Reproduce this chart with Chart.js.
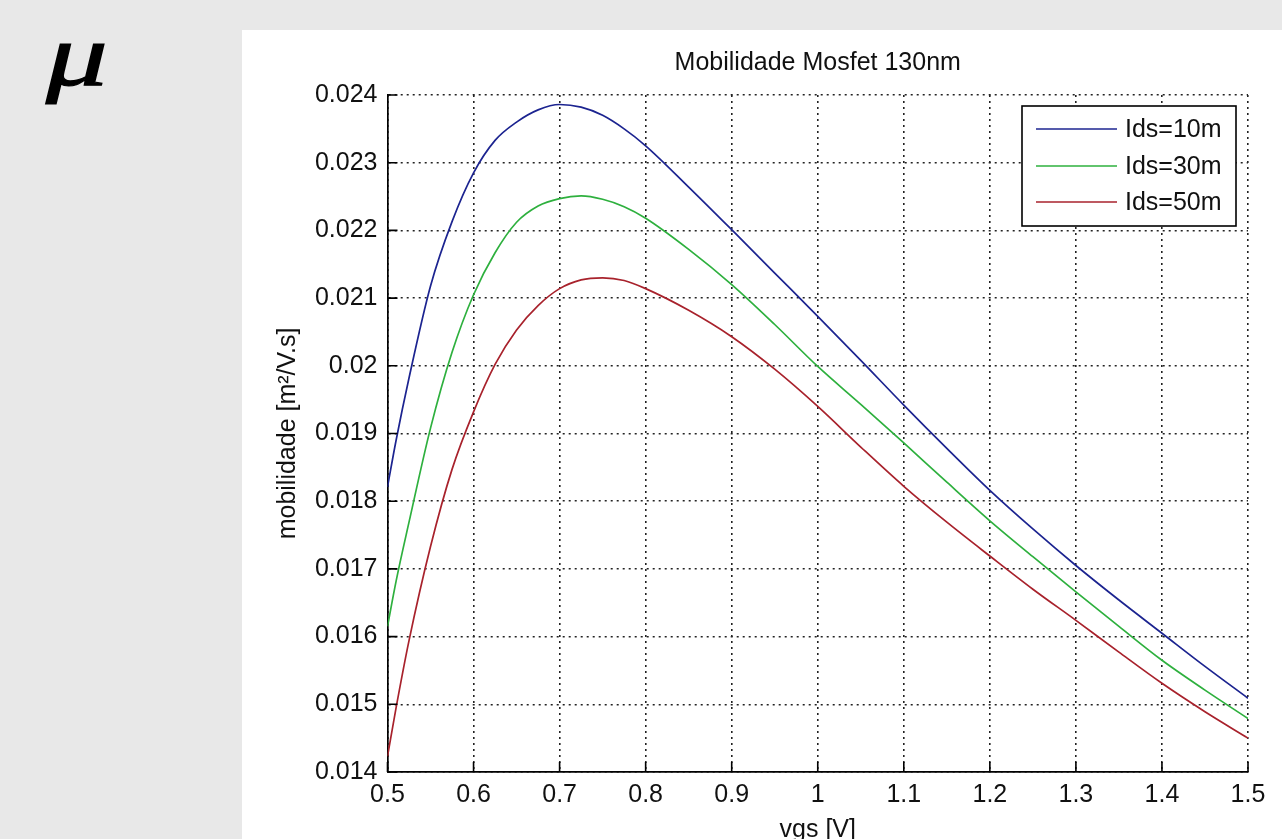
<!DOCTYPE html>
<html>
<head>
<meta charset="utf-8">
<script src="https://cdn.jsdelivr.net/npm/chart.js@4.4.0/dist/chart.umd.min.js"></script>
<style>
  html, body { margin: 0; padding: 0; background: #e8e8e8; width: 1282px; height: 839px; overflow: hidden; }
  #mu { position: absolute; left: 46px; top: 12px; font: italic 88px "Liberation Serif", "Times New Roman", serif; color: #000; line-height: 1; transform: scaleX(1.4); transform-origin: left top; -webkit-text-stroke: 1.2px #000; }
  #panel { position: absolute; left: 242px; top: 30px; width: 1040px; height: 809px; background: #fff; }
  canvas { display: block; }
</style>
</head>
<body>
<div id="mu">μ</div>
<div id="panel"><canvas id="chart" width="1040" height="809"></canvas></div>
<script>
  // values
  var vgs = [0.5, 0.51, 0.525, 0.55, 0.575, 0.6, 0.625, 0.65, 0.675, 0.7, 0.725, 0.75, 0.775, 0.8,
    0.85, 0.9, 0.95, 1.0, 1.05, 1.1, 1.15, 1.2, 1.25, 1.3, 1.35, 1.4, 1.45, 1.5];

  var mobIds10 = [0.01821, 0.01890, 0.01982, 0.02118, 0.02213, 0.02285, 0.02333, 0.02360, 0.02378, 0.02386,
    0.02382, 0.02370, 0.02350, 0.02325, 0.02264, 0.02201, 0.02137, 0.02073, 0.02008, 0.01942,
    0.01878, 0.01816, 0.01759, 0.01705, 0.01654, 0.01605, 0.01556, 0.01509];

  var mobIds30 = [0.01615, 0.01682, 0.01769, 0.01908, 0.02020, 0.02105, 0.02167, 0.02212, 0.02236, 0.02247,
    0.02251, 0.02246, 0.02235, 0.02218, 0.02172, 0.02120, 0.02061, 0.01999, 0.01943, 0.01886,
    0.01828, 0.01771, 0.01718, 0.01666, 0.01615, 0.01565, 0.01521, 0.01479];

  var mobIds50 = [0.01423, 0.01495, 0.01594, 0.01733, 0.01847, 0.01932, 0.02002, 0.02053, 0.02089, 0.02114,
    0.02127, 0.02130, 0.02126, 0.02114, 0.02082, 0.02043, 0.01995, 0.01940, 0.01880, 0.01822,
    0.01769, 0.01719, 0.01670, 0.01624, 0.01577, 0.01531, 0.01489, 0.01450];

  var seriesLabels = ['Ids=10m', 'Ids=30m', 'Ids=50m'];
  var seriesColors = ['#1c2490', '#2eb03e', '#a8222c'];
  var xTicks = [0.5, 0.6, 0.7, 0.8, 0.9, 1.0, 1.1, 1.2, 1.3, 1.4, 1.5];
  var yTicks = [0.014, 0.015, 0.016, 0.017, 0.018, 0.019, 0.02, 0.021, 0.022, 0.023, 0.024];

  var FONT = '"Liberation Sans", Arial, Helvetica, sans-serif';

  function fmt(v) {
    return String(Number(v.toFixed(4)));
  }

  function points(ys) {
    return vgs.map(function (v, i) { return { x: v, y: ys[i] }; });
  }

  // title, axis titles, inward ticks and the boxed legend
  var matlabPlugin = {
    id: 'matlab',
    afterDraw: function (chart) {
      var ctx = chart.ctx;
      var a = chart.chartArea;
      var xs = chart.scales.x;
      var ys = chart.scales.y;
      var cx = (a.left + a.right) / 2;
      ctx.save();

      ctx.strokeStyle = '#000';
      ctx.lineWidth = 1.6;
      ctx.beginPath();
      xTicks.forEach(function (v) {
        var px = xs.getPixelForValue(v);
        ctx.moveTo(px, a.bottom);
        ctx.lineTo(px, a.bottom - 10);
      });
      yTicks.forEach(function (v) {
        var py = ys.getPixelForValue(v);
        ctx.moveTo(a.left, py);
        ctx.lineTo(a.left + 10, py);
      });
      ctx.stroke();

      ctx.fillStyle = '#111';
      ctx.font = '25px ' + FONT;
      ctx.textAlign = 'center';
      ctx.textBaseline = 'alphabetic';
      ctx.fillText('Mobilidade Mosfet 130nm', cx, 40);
      ctx.fillText('vgs [V]', cx, 807);

      ctx.save();
      ctx.translate(46, (a.top + a.bottom) / 2);
      ctx.rotate(-Math.PI / 2);
      ctx.textBaseline = 'middle';
      ctx.fillText('mobilidade [m²/V.s]', 0, 0);
      ctx.restore();

      // legend
      var bw = 214, bh = 120;
      var bx = a.right - 12 - bw, by = a.top + 11;
      ctx.fillStyle = '#fff';
      ctx.fillRect(bx, by, bw, bh);
      ctx.strokeStyle = '#000';
      ctx.lineWidth = 1.6;
      ctx.strokeRect(bx, by, bw, bh);
      var rows = [23, 60, 96];
      chart.data.datasets.forEach(function (ds, i) {
        var ry = by + rows[i];
        ctx.strokeStyle = ds.borderColor;
        ctx.lineWidth = 1.6;
        ctx.beginPath();
        ctx.moveTo(bx + 14, ry);
        ctx.lineTo(bx + 95, ry);
        ctx.stroke();
        ctx.fillStyle = '#111';
        ctx.textAlign = 'left';
        ctx.textBaseline = 'middle';
        ctx.font = '25px ' + FONT;
        ctx.fillText(ds.label, bx + 103, ry + 1);
      });
      ctx.restore();
    }
  };

  new Chart(document.getElementById('chart').getContext('2d'), {
    type: 'line',
    data: {
      datasets: [
        { label: seriesLabels[0], data: points(mobIds10), borderColor: seriesColors[0] },
        { label: seriesLabels[1], data: points(mobIds30), borderColor: seriesColors[1] },
        { label: seriesLabels[2], data: points(mobIds50), borderColor: seriesColors[2] }
      ]
    },
    options: {
      responsive: false,
      animation: false,
      layout: { padding: { top: 65, right: 34, left: 0, bottom: 0 } },
      elements: {
        line: { borderWidth: 1.7, cubicInterpolationMode: 'monotone', fill: false },
        point: { radius: 0 }
      },
      plugins: { legend: { display: false }, tooltip: { enabled: false }, title: { display: false } },
      scales: {
        x: {
          type: 'linear',
          min: 0.5,
          max: 1.5,
          afterBuildTicks: function (s) { s.ticks = xTicks.map(function (v) { return { value: v }; }); },
          afterFit: function (s) { s.height = 67; },
          ticks: { autoSkip: false, maxRotation: 0, padding: 8, color: '#111', font: { family: FONT, size: 25 }, callback: fmt },
          grid: { color: '#222', lineWidth: 1.6, drawTicks: false },
          border: { display: true, color: '#000', width: 1.7, dash: [2, 4] }
        },
        y: {
          type: 'linear',
          min: 0.014,
          max: 0.024,
          afterBuildTicks: function (s) { s.ticks = yTicks.map(function (v) { return { value: v }; }); },
          afterFit: function (s) { s.width = 145.5; },
          ticks: { autoSkip: false, padding: 10, color: '#111', font: { family: FONT, size: 25 }, callback: fmt },
          grid: { color: '#222', lineWidth: 1.6, drawTicks: false },
          border: { display: true, color: '#000', width: 1.7, dash: [2, 4] }
        }
      }
    },
    plugins: [matlabPlugin]
  });
</script>
</body>
</html>
